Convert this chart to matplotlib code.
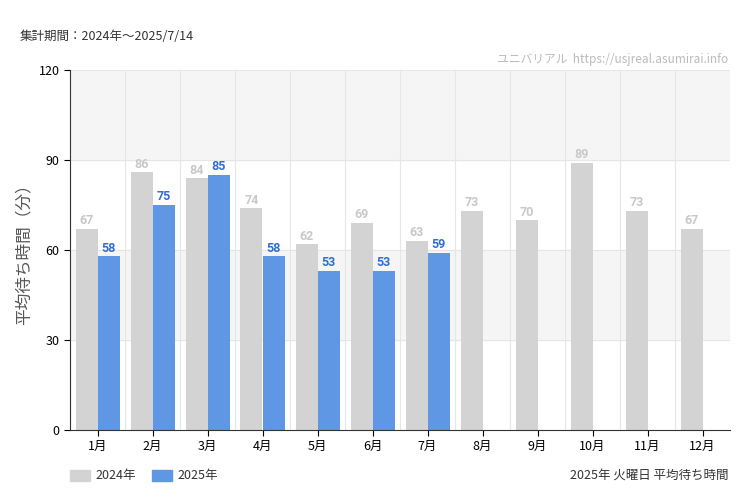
import matplotlib.pyplot as plt
import numpy as np

plt.rcParams["font.family"] = ["Noto Sans CJK JP"]

months = ["1月", "2月", "3月", "4月", "5月", "6月", "7月", "8月", "9月", "10月", "11月", "12月"]
avg_2024 = [67, 86, 84, 74, 62, 69, 63, 73, 70, 89, 73, 67]
avg_2025 = [58, 75, 85, 58, 53, 53, 59]

gray = "#d3d3d3"
blue = "#5f97e5"

fig = plt.figure(figsize=(7.5, 5), dpi=100)
ax = fig.add_axes([70 / 750, 70 / 500, 660 / 750, 360 / 500])

x = np.arange(len(months))
w = 0.4
ax.axhspan(90, 120, color="#f5f5f5", zorder=0)
ax.axhspan(30, 60, color="#f5f5f5", zorder=0)
for y in (30, 60, 90, 120):
    ax.axhline(y, color="#e6e6e6", lw=0.8, zorder=0.5)
for xv in np.arange(-0.5, 12, 1):
    ax.axvline(xv, color="#e6e6e6", lw=0.8, zorder=0.5)

b1 = ax.bar(x - w / 2, avg_2024, w, color=gray, zorder=2)
b2 = ax.bar(x[:len(avg_2025)] + w / 2, avg_2025, w, color=blue, zorder=2)
for xi, v in zip(x - w / 2, avg_2024):
    ax.text(xi, v + 0.5, str(v), ha="center", va="bottom", fontsize=9, color="#c8c8c8", family="Roboto", fontweight="bold")
for xi, v in zip(x[:len(avg_2025)] + w / 2, avg_2025):
    ax.text(xi, v + 0.5, str(v), ha="center", va="bottom", fontsize=9, color="#2f6fd0", family="Roboto", fontweight="bold")

ax.set_xlim(-0.5, 11.5)
ax.set_ylim(0, 120)
ax.set_yticks([0, 30, 60, 90, 120])
ax.set_xticks(x)
ax.set_xticklabels(months, fontsize=9)
ax.tick_params(axis="y", labelsize=9, length=4)
ax.tick_params(axis="x", length=4)
for s in ("top", "right"):
    ax.spines[s].set_visible(False)
ax.spines["left"].set_color("#333333")
ax.spines["bottom"].set_color("#333333")
ax.set_ylabel("平均待ち時間（分）", fontsize=12, color="#555555")

fig.text(20 / 750, 1 - 37 / 500, "集計期間：2024年～2025/7/14", fontsize=9, va="center", color="#333333")
fig.text(728 / 750, 1 - 60 / 500, "ユニバリアル  https://usjreal.asumirai.info", fontsize=8.5, ha="right", va="center", color="#bbbbbb")
fig.text(728 / 750, 1 - 475 / 500, "2025年 火曜日 平均待ち時間", fontsize=9, ha="right", va="center", color="#333333")

fig.patches.append(plt.Rectangle((70 / 750, 1 - 481 / 500), 20 / 750, 11 / 500, color=gray, transform=fig.transFigure))
fig.text(95 / 750, 1 - 475 / 500, "2024年", fontsize=9, va="center", color="#333333")
fig.patches.append(plt.Rectangle((152 / 750, 1 - 481 / 500), 20 / 750, 11 / 500, color=blue, transform=fig.transFigure))
fig.text(177 / 750, 1 - 475 / 500, "2025年", fontsize=9, va="center", color="#333333")

fig.savefig("out.png", dpi=100)
